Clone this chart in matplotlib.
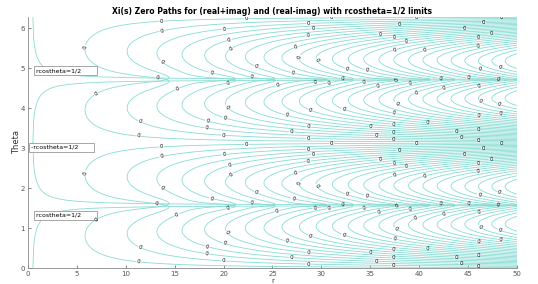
import numpy as np
import matplotlib.pyplot as plt

# grid ranges and annotation text
r_range = [0.02, 50]
theta_range = [0, 2 * np.pi]
n_r = 700
n_theta = 900
labels = ['rcostheta=1/2', '-rcostheta=1/2', 'rcostheta=1/2']
label_r = [0.8, 0.3, 0.8]
label_theta = [1.32, 3.02, 4.93]
line_col = '#88dcd3'
label_gap = 85   # px along a contour between "0" labels


def lgamma(z):
    acc = np.zeros_like(z)
    for j in range(8):
        acc = acc + np.log(z + j)
    w = z + 8
    res = (w - 0.5) * np.log(w) - w + 0.5 * np.log(2 * np.pi) \
        + 1 / (12 * w) - 1 / (360 * w**3) + 1 / (1260 * w**5)
    return res - acc


def zeta(s, n=70):
    d = np.zeros(n + 1)
    d[0] = 1.0
    term = 1.0
    for i in range(n):
        term *= 4.0 * (n + i) * (n - i) / ((2 * i + 1) * (2 * i + 2))
        d[i + 1] = d[i] + term
    eta = np.zeros_like(s)
    for k in range(n):
        eta = eta + ((-1) ** k) * (d[k] - d[n]) / d[n] * np.exp(-s * np.log(k + 1))
    eta = -eta
    return eta / (1 - np.exp((1 - s) * np.log(2)))


r = np.linspace(r_range[0], r_range[1], n_r)
th = np.linspace(theta_range[0], theta_range[1], n_theta)
R, TH = np.meshgrid(r, th)
w = R * np.cos(TH) + 1j * R * np.sin(TH)
s = 0.5 + w
s = np.where(s.real < 0.5, 1 - s, s)   # xi(s) = xi(1-s)

z = zeta(s)
phase = np.angle(s) + np.angle((s - 1) * z) - s.imag / 2 * np.log(np.pi) + lgamma(s / 2).imag
f1 = np.cos(phase) + np.sin(phase)   # real+imag
f2 = np.cos(phase) - np.sin(phase)   # real-imag

fig = plt.figure(figsize=(5.38, 2.84), dpi=100)
ax = fig.add_axes([0.052, 0.056, 0.909, 0.885])
ax.set_xlim(0, 50)
ax.set_ylim(0, 2 * np.pi)

placed = []
for f in [f1, f2]:
    cs = ax.contour(R, TH, f, levels=[0], colors=line_col, linewidths=0.6)
    # spread "0" labels along every line, like matlab's ShowText
    spots = []
    for seg in cs.allsegs[0]:
        if len(seg) < 2:
            continue
        px = ax.transData.transform(seg)
        d = np.concatenate([[0], np.cumsum(np.hypot(*np.diff(px, axis=0).T))])
        for L in np.arange(label_gap * 0.45, d[-1] - 10, label_gap):
            i = np.searchsorted(d, L)
            p = px[min(i, len(px) - 1)]
            if p[0] < 60:
                continue
            if placed and np.min(np.hypot(*(np.array(placed) - p).T)) < 7:
                continue
            placed.append(p)
            spots.append(tuple(seg[min(i, len(seg) - 1)]))
    if spots:
        ax.clabel(cs, fmt={0: '0'}, fontsize=4, inline=True, inline_spacing=0.5,
                  colors='black', manual=spots)

# rcostheta = +-1/2 limit curves
rl = np.linspace(0.5, 50, 600)
a = np.arccos(0.5 / rl)
for tl in [a, 2 * np.pi - a, np.pi - a, np.pi + a]:
    ax.plot(rl, tl, color=line_col, linewidth=0.6)

for txt, x, y in zip(labels, label_r, label_theta):
    ax.text(x, y, txt + ' ' * 7, fontsize=4.5, va='center', ha='left',
            bbox=dict(facecolor='white', edgecolor='#999999', linewidth=0.6, pad=1.5))

ax.set_xticks(np.arange(0, 51, 5))
ax.set_yticks(np.arange(0, 7, 1))
ax.tick_params(direction='in', labelsize=5, length=2.5, width=0.5, colors='#555555', pad=2)
for side in ['top', 'right']:
    ax.spines[side].set_visible(False)
for side in ['left', 'bottom']:
    ax.spines[side].set_color('#888888')
    ax.spines[side].set_linewidth(0.6)
ax.set_xlabel('r', fontsize=5, labelpad=1, color='#333333')
ax.set_ylabel('Theta', fontsize=6, labelpad=0, color='#333333')
ax.set_title('Xi(s) Zero Paths for (real+imag) and (real-imag) with rcostheta=1/2 limits',
             fontsize=5.5, fontweight='bold', pad=2)
fig.savefig('out.png', dpi=100)
